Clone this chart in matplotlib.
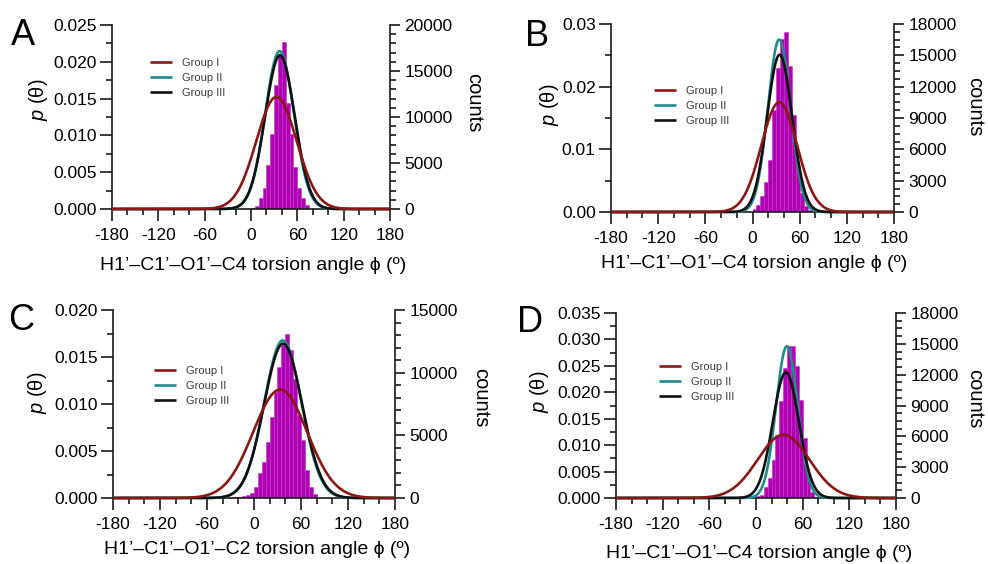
import numpy as np
import matplotlib
matplotlib.use('Agg')
import matplotlib.pyplot as plt
from matplotlib.ticker import MultipleLocator, FormatStrFormatter

plt.rcParams['font.family'] = ['Liberation Sans', 'DejaVu Sans']
plt.rcParams['axes.unicode_minus'] = False
plt.rcParams['mathtext.fontset'] = 'custom'
plt.rcParams['mathtext.it'] = 'Liberation Sans:italic'
plt.rcParams['mathtext.rm'] = 'Liberation Sans'

# ---------------- data ----------------
groups = ['Group I', 'Group II', 'Group III']
panel_letters = ['A', 'B', 'C', 'D']
xlabels = ['H1\u2019\u2013C1\u2019\u2013O1\u2019\u2013C4 torsion angle \u03d5 (\u00ba)',
           'H1\u2019\u2013C1\u2019\u2013O1\u2019\u2013C4 torsion angle \u03d5 (\u00ba)',
           'H1\u2019\u2013C1\u2019\u2013O1\u2019\u2013C2 torsion angle \u03d5 (\u00ba)',
           'H1\u2019\u2013C1\u2019\u2013O1\u2019\u2013C4 torsion angle \u03d5 (\u00ba)']

# Gaussian fits: mean and standard deviation (degrees) for Group I, II, III
mean_A = [33.0, 37.0, 37.5]
sd_A = [26.2, 18.6, 19.1]
mean_B = [34.0, 34.0, 34.5]
sd_B = [22.8, 14.5, 15.9]
mean_C = [33.4, 36.8, 37.2]
sd_C = [34.6, 23.8, 24.3]
mean_D = [35.4, 39.7, 38.4]
sd_D = [33.4, 13.9, 16.8]

# histograms (5 degree bins): left edge of first bin and counts
bin_width = 5
hist_start_A = 0
counts_A = [150, 350, 1200, 2300, 4800, 8100, 13500, 16900, 18100, 11500, 8100, 4600, 2300, 1200, 450]
hist_start_B = 0
counts_B = [250, 700, 1500, 2900, 5000, 9800, 13800, 16600, 17200, 14000, 9300, 4400, 1800, 550, 150]
hist_start_C = -30
counts_C = [30, 60, 100, 150, 250, 370, 900, 1970, 2900, 4490, 6480, 8470, 10460, 12190, 13060,
            11800, 9500, 6600, 4600, 2200, 900, 300]
hist_start_D = 0
counts_D = [150, 290, 1110, 1920, 3700, 6150, 9400, 12650, 14760, 14760, 12810, 9560, 5810, 2240, 610, 100]

# axis ranges / ticks
p_max = [0.025, 0.03, 0.020, 0.035]
p_major = [0.005, 0.01, 0.005, 0.005]
p_fmt = ['%.3f', '%.2f', '%.3f', '%.3f']
c_max = [20000, 18000, 15000, 18000]
c_major = [5000, 3000, 5000, 3000]
c_minor = [1000, 750, 1000, 750]

means = [mean_A, mean_B, mean_C, mean_D]
sds = [sd_A, sd_B, sd_C, sd_D]
hstarts = [hist_start_A, hist_start_B, hist_start_C, hist_start_D]
counts = [counts_A, counts_B, counts_C, counts_D]

# ---------------- layout (pixels) ----------------
W, H = 988, 564
boxes = [(112, 25, 390, 209), (611, 24, 894, 212), (113, 310, 395, 498), (616, 313, 896, 498)]
letter_pos = [(11, 45), (525, 46), (8, 330), (517, 332)]
ylab_pos = [(39, 100), (549, 105), (37, 393), (539, 392)]
clab_pos = [(474, 103), (975, 107), (481, 398), (975, 399)]
xlab_pos = [(253, 266), (754, 263), (257, 550), (759, 554)]
leg_anchor = [(0.137, 0.820), (0.152, 0.672), (0.145, 0.702), (0.154, 0.735)]

colors = ['#8C1717', '#1F8C8C', '#111111']
zorders = [5, 3, 4]
hist_color = '#B000B4'

fig = plt.figure(figsize=(W / 100, H / 100), dpi=100)

xx = np.linspace(-180, 180, 1441)

for i in range(4):
    l, t, r, b = boxes[i]
    ax = fig.add_axes([l / W, 1 - b / H, (r - l) / W, (b - t) / H])
    ax2 = ax.twinx()
    ax.set_zorder(ax2.get_zorder() + 1)
    ax.patch.set_visible(False)

    # histogram
    edges = hstarts[i] + bin_width * np.arange(len(counts[i]))
    ax2.bar(edges, counts[i], width=bin_width, align='edge', color=hist_color,
            edgecolor='#BE34C2', linewidth=0.4)
    ax2.set_ylim(0, c_max[i])

    # fitted curves
    for g in range(3):
        m, s = means[i][g], sds[i][g]
        yy = np.exp(-(xx - m) ** 2 / (2 * s ** 2)) / (s * np.sqrt(2 * np.pi))
        ax.plot(xx, yy, color=colors[g], lw=1.9, label=groups[g], zorder=zorders[g],
                clip_on=False, solid_capstyle='butt')

    ax.set_xlim(-180, 180)
    ax.set_ylim(0, p_max[i])

    ax.xaxis.set_major_locator(MultipleLocator(60))
    ax.xaxis.set_minor_locator(MultipleLocator(20))
    ax.yaxis.set_major_locator(MultipleLocator(p_major[i]))
    ax.yaxis.set_minor_locator(MultipleLocator(p_major[i] / 2))
    ax.yaxis.set_major_formatter(FormatStrFormatter(p_fmt[i]))
    ax2.yaxis.set_major_locator(MultipleLocator(c_major[i]))
    ax2.yaxis.set_minor_locator(MultipleLocator(c_minor[i]))

    for a in (ax, ax2):
        for sp in a.spines.values():
            sp.set_linewidth(1.2)
            sp.set_color('#1a1a1a')
        a.spines['top'].set_visible(False)
    ax.spines['right'].set_visible(False)
    ax2.spines['left'].set_visible(False)
    ax2.spines['bottom'].set_visible(False)

    ax.tick_params(axis='x', which='major', direction='out', length=8.5, width=1.2,
                   pad=5.5, labelsize=12.5, color='#1a1a1a')
    ax.tick_params(axis='x', which='minor', direction='out', length=4.5, width=1.2,
                   color='#1a1a1a')
    ax.tick_params(axis='y', which='major', direction='out', length=8.5, width=1.2,
                   pad=2.5, labelsize=12.5, color='#1a1a1a')
    ax.tick_params(axis='y', which='minor', direction='out', length=4.5, width=1.2,
                   color='#1a1a1a')
    ax2.tick_params(axis='y', which='major', direction='out', length=7, width=1.2,
                    pad=3.5, labelsize=12.5, color='#1a1a1a')
    ax2.tick_params(axis='y', which='minor', direction='out', length=4, width=1.2,
                    color='#1a1a1a')

    leg = ax.legend(loc='upper left', bbox_to_anchor=leg_anchor[i], frameon=False,
                    fontsize=8, handlelength=2.0, handletextpad=0.9, labelspacing=0.45,
                    borderpad=0, borderaxespad=0)
    for txt in leg.get_texts():
        txt.set_color('#3a3a3a')

    # labels
    fig.text(letter_pos[i][0] / W, 1 - letter_pos[i][1] / H, panel_letters[i],
             fontsize=26, ha='left', va='baseline')
    fig.text(ylab_pos[i][0] / W, 1 - ylab_pos[i][1] / H, '$p$ (\u03b8)', fontsize=14.5,
             rotation=90, ha='center', va='center')
    fig.text(clab_pos[i][0] / W, 1 - clab_pos[i][1] / H, 'counts', fontsize=14.5,
             rotation=270, ha='center', va='center')
    fig.text(xlab_pos[i][0] / W, 1 - xlab_pos[i][1] / H, xlabels[i], fontsize=14,
             ha='center', va='center')

fig.savefig('out.png', dpi=100)
